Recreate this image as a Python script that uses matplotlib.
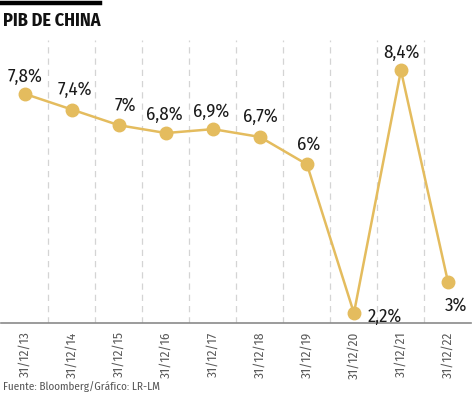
import matplotlib
matplotlib.use("Agg")
import matplotlib.pyplot as plt
from matplotlib.lines import Line2D
from matplotlib import font_manager as fm

categories = ["31/12/13", "31/12/14", "31/12/15", "31/12/16", "31/12/17",
              "31/12/18", "31/12/19", "31/12/20", "31/12/21", "31/12/22"]
values = [7.8, 7.4, 7.0, 6.8, 6.9, 6.7, 6.0, 2.2, 8.4, 3.0]
labels = ["7,8%", "7,4%", "7%", "6,8%", "6,9%", "6,7%", "6%", "2,2%", "8,4%", "3%"]

names = {f.name for f in fm.fontManager.ttflist}
pref = ["Fira Sans Condensed", "PT Sans Narrow", "Roboto Condensed", "Asap Condensed",
        "Barlow Semi Condensed", "Liberation Sans Narrow"]
narrow = [n for n in pref if n in names][:1]
FONT = narrow + ["DejaVu Sans"]
plt.rcParams['font.family'] = FONT
plt.rcParams['font.stretch'] = 'condensed'

gold = "#E4BC5E"
fig = plt.figure(figsize=(4.74, 3.95), dpi=100)
ax = fig.add_axes([0.003, 0.182, 0.9916, 0.717])

x = list(range(len(values)))
ax.plot(x, values, color=gold, lw=1.8, marker="o", ms=9, mfc=gold, mec=gold, zorder=3)

ax.set_xlim(-0.5, 9.5)
ax.set_ylim(1.944, 9.18)

for g in range(len(values) - 1):
    ax.axvline(g + 0.5, color="#d4d4d4", lw=0.9, ls=(0, (5, 4)), zorder=1)

# (dx, dy) in points from marker to text baseline
offsets = [(0, 8.6), (2, 10.8), (4.7, 10.8), (-1, 9.4), (-1, 8.6), (0, 10.6),
           (1, 10.8), (22, -6.5), (0, 9.1), (6, -20.9)]
for xi, v, lab, (dx, dy) in zip(x, values, labels, offsets):
    ax.annotate(lab, (xi, v), xytext=(dx, dy), textcoords="offset points",
                ha="center", va="baseline", fontsize=13.5, color="#1a1a1a")

for s in ["top", "right", "left"]:
    ax.spines[s].set_visible(False)
ax.spines["bottom"].set_color("#8a8a8a")
ax.spines["bottom"].set_linewidth(1.2)
ax.set_yticks([])
ax.set_xticks(x)
ax.set_xticklabels(categories, rotation=90, fontsize=9.5, color="#5a5a5a")
ax.tick_params(axis="x", length=0, pad=6)

fig.add_artist(Line2D([0.0, 0.21], [0.993, 0.993], color="black", lw=3.2, transform=fig.transFigure))
fig.text(0.006, 0.948, "PIB DE CHINA", fontsize=13, fontweight="bold", color="#111111",
         ha="left", va="center")
fig.text(0.006, 0.02, "Fuente: Bloomberg/Gráfico: LR-LM", fontsize=8, color="#555555",
         ha="left", va="center")

fig.savefig("out.png", dpi=100)
